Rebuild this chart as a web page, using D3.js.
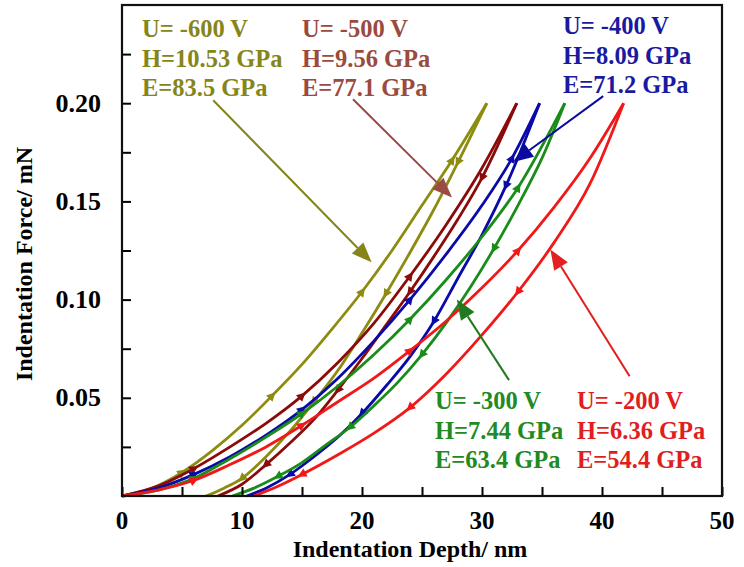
<!DOCTYPE html>
<html>
<head>
<meta charset="utf-8">
<title>Indentation curves</title>
<style>
  body { margin: 0; background: #fff; }
  text { font-family: "Liberation Serif", "Times New Roman", serif; font-weight: bold; }
</style>
</head>
<body>
<svg></svg>
<script src="https://d3js.org/d3.v7.min.js"></script>
<script>
// depth (nm), force (mN) pairs
var load600 = [[0,0],[2.5,0.004],[5,0.012],[7.5,0.023],[10,0.036],[12.5,0.051],[15,0.067],[17.5,0.085],[20,0.104],[22.5,0.125],[25,0.148],[27.5,0.171],[30.4,0.2]];
var unload600 = [[7,0],[8.5,0.004],[10,0.009],[12,0.02],[14,0.033],[16,0.048],[18,0.064],[20,0.083],[22,0.103],[24,0.124],[26,0.146],[28,0.17],[30.4,0.2]];
var load500 = [[0,0],[3,0.005],[6,0.014],[9,0.025],[12,0.037],[15,0.051],[18,0.068],[21,0.088],[24,0.112],[27,0.138],[30,0.167],[32.9,0.2]];
var unload500 = [[8,0],[10,0.006],[12,0.016],[14,0.027],[16,0.039],[18,0.054],[20,0.07],[22,0.087],[24,0.104],[26,0.122],[28,0.141],[30,0.162],[32.9,0.2]];
var load400 = [[0,0],[3,0.004],[6,0.011],[9,0.02],[12,0.031],[15,0.044],[18,0.06],[21,0.079],[24,0.1],[27,0.123],[30,0.148],[32.5,0.172],[34.8,0.2]];
var unload400 = [[10.4,0],[12,0.004],[14,0.011],[16,0.02],[18,0.03],[20,0.042],[22,0.056],[24,0.071],[26,0.089],[28,0.111],[30,0.133],[32,0.158],[34.8,0.2]];
var load300 = [[0,0],[3,0.003],[6,0.009],[9,0.019],[12,0.03],[15,0.042],[18,0.056],[21,0.072],[24,0.09],[27,0.11],[30,0.132],[33,0.157],[36.9,0.2]];
var unload300 = [[9.2,0],[11,0.004],[13,0.01],[15,0.017],[17,0.026],[19,0.035],[21,0.046],[23,0.058],[25,0.072],[27,0.088],[29,0.106],[31,0.126],[33,0.148],[35,0.172],[36.9,0.2]];
var load200 = [[0,0],[3,0.003],[6,0.008],[9,0.016],[12,0.025],[15,0.036],[18,0.048],[21,0.06],[24,0.074],[27,0.089],[30,0.106],[33,0.125],[36,0.147],[39,0.172],[41.8,0.2]];
var unload200 = [[11,0],[13,0.005],[15,0.011],[18,0.021],[21,0.032],[24,0.045],[27,0.062],[30,0.082],[33,0.104],[36,0.129],[39,0.159],[41.8,0.2]];

var voltages = ['-600', '-500', '-400', '-300', '-200'];
var hardness = ['10.53', '9.56', '8.09', '7.44', '6.36'];
var modulus = ['83.5', '77.1', '71.2', '63.4', '54.4'];
// arrow [from, to] in depth/force units
var arrows = [
  [[7.6, 0.2015], [20.8, 0.119]],
  [[19.25, 0.202], [27.5, 0.152]],
  [[40.1, 0.2036], [32.6, 0.17]],
  [[32.25, 0.059], [27.9, 0.1]],
  [[42.3, 0.061], [35.7, 0.1255]]
];
var depthTicks = [0, 10, 20, 30, 40, 50];
var forceTicks = [0.05, 0.10, 0.15, 0.20];

var lineColors = ['#8c8c10', '#8b0a0a', '#0a0aa8', '#1a8c1a', '#f01818'];
var textColors = ['#85861a', '#9a4a3e', '#1a1aa0', '#228a22', '#e01e1e'];
var arrowColors = ['#84841a', '#9c4a44', '#0a0aa0', '#207a20', '#e22020'];
var curves = [[load600, unload600], [load500, unload500], [load400, unload400], [load300, unload300], [load200, unload200]];
// label anchor (left x px, first baseline px)
var labelPos = [[142, 37], [302, 37], [563, 34], [435, 409], [577, 409]];

var W = 744, H = 567;
var x = d3.scaleLinear().domain([0, 50]).range([122, 722]);
var y = d3.scaleLinear().domain([0, 0.25]).range([496, 5]);

var svg = d3.select('svg').attr('width', W).attr('height', H);

var line = d3.line()
  .x(d => x(d[0]))
  .y(d => y(d[1]))
  .curve(d3.curveMonotoneX);

var plot = svg.append('g');
curves.forEach(function (pair, i) {
  pair.forEach(function (pts, k) {
    plot.append('path').attr('d', line(pts))
      .attr('fill', 'none')
      .attr('stroke', lineColors[i])
      .attr('stroke-width', 2.8)
      .attr('stroke-linejoin', 'round');
    // little direction markers
    for (var j = 2; j < pts.length - 1; j += 3) {
      var a = pts[j], b = pts[j + 1];
      var ang = Math.atan2(y(b[1]) - y(a[1]), x(b[0]) - x(a[0])) * 180 / Math.PI;
      if (k === 1) ang += 180;
      plot.append('path')
        .attr('d', 'M5,0L-4,-4.5L-4,4.5Z')
        .attr('fill', lineColors[i])
        .attr('transform', 'translate(' + x(a[0]) + ',' + y(a[1]) + ') rotate(' + ang + ')');
    }
  });
});

// arrows
arrows.forEach(function (ar, i) {
  var x0 = x(ar[0][0]), y0 = y(ar[0][1]), x1 = x(ar[1][0]), y1 = y(ar[1][1]);
  var ang = Math.atan2(y1 - y0, x1 - x0);
  var L = 20, hw = 8;
  var bx = x1 - L * Math.cos(ang), by = y1 - L * Math.sin(ang);
  svg.append('line')
    .attr('x1', x0).attr('y1', y0).attr('x2', bx).attr('y2', by)
    .attr('stroke', arrowColors[i]).attr('stroke-width', 2);
  var px = -Math.sin(ang) * hw, py = Math.cos(ang) * hw;
  svg.append('path')
    .attr('d', 'M' + x1 + ',' + y1 + 'L' + (bx + px) + ',' + (by + py) + 'L' + (bx - px) + ',' + (by - py) + 'Z')
    .attr('fill', arrowColors[i]);
});

// annotation text
voltages.forEach(function (v, i) {
  var g = svg.append('g').attr('fill', textColors[i]).style('font-size', '24.5px');
  var lx = labelPos[i][0], ly = labelPos[i][1];
  g.append('text').attr('x', lx).attr('y', ly).text('U= ' + v + ' V');
  g.append('text').attr('x', lx).attr('y', ly + 29.5).text('H=' + hardness[i] + ' GPa');
  g.append('text').attr('x', lx).attr('y', ly + 59).text('E=' + modulus[i] + ' GPa');
});

// axes: inward ticks
var xAxis = svg.append('g').attr('transform', 'translate(0,496)')
  .call(d3.axisBottom(x).tickValues(d3.range(0, 51, 5)).tickSize(-9).tickFormat(''));
var yAxis = svg.append('g').attr('transform', 'translate(122,0)')
  .call(d3.axisLeft(y).tickValues(d3.range(0.025, 0.25, 0.025)).tickSize(-9).tickFormat(''));
[xAxis, yAxis].forEach(function (a) {
  a.select('.domain').remove();
  a.selectAll('line').attr('stroke', '#000').attr('stroke-width', 2);
});

svg.append('rect').attr('x', 122).attr('y', 5).attr('width', 600).attr('height', 491)
  .attr('fill', 'none').attr('stroke', '#111').attr('stroke-width', 2.2);

svg.append('g').selectAll('text').data(depthTicks).join('text')
  .attr('x', d => x(d)).attr('y', 529)
  .attr('text-anchor', 'middle').style('font-size', '25px')
  .text(d => d);
svg.append('g').selectAll('text').data(forceTicks).join('text')
  .attr('x', 101).attr('y', d => y(d) + 8.5)
  .attr('text-anchor', 'end').style('font-size', '26px')
  .text(d => d.toFixed(2));

svg.append('text').attr('x', 410).attr('y', 557).attr('text-anchor', 'middle')
  .style('font-size', '24px').text('Indentation Depth/ nm');
svg.append('text').attr('transform', 'translate(32,264) rotate(-90)').attr('text-anchor', 'middle')
  .style('font-size', '24px').text('Indentation Force/ mN');
</script>
</body>
</html>
